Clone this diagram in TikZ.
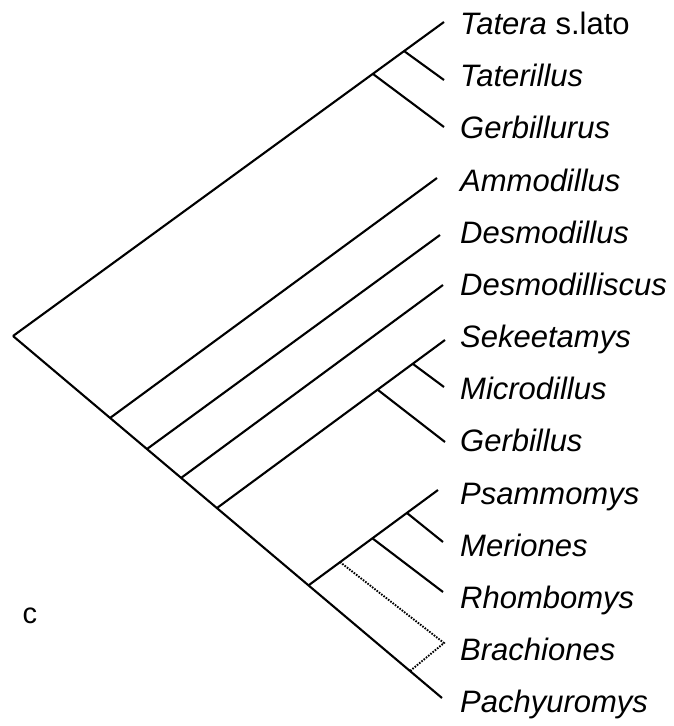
\documentclass[tikz,border=0pt]{standalone}
\usepackage{fontspec}
\setmainfont{Liberation Sans}

\begin{document}
\begin{tikzpicture}[x=1pt,y=-1pt,
  taxon/.style={anchor=base west, inner sep=0pt, font=\fontsize{31}{37}\selectfont\itshape},
  uncertain/.style={line width=1.9pt, dash pattern=on 1.6pt off 1.3pt}]
\useasboundingbox (0,0) rectangle (674,726);
% root and main stem
\coordinate (root) at (13,336);
\coordinate (m1) at (110,418);
\coordinate (m2) at (147,449);
\coordinate (m3) at (181,478);
\coordinate (m4) at (217,508);
\coordinate (m5) at (309,585);
\coordinate (d1) at (410,671);
% inner nodes of the clades
\coordinate (u1) at (373,74);
\coordinate (u2) at (404,51);
\coordinate (s1) at (378,390);
\coordinate (s2) at (413,364);
\coordinate (p0) at (340,562);
\coordinate (p1) at (372,538);
\coordinate (p2) at (407,513);
% tips
\coordinate (tat) at (444,22);
\coordinate (tli) at (444,80);
\coordinate (gbu) at (444,127);
\coordinate (amm) at (437,178);
\coordinate (dsm) at (440,235);
\coordinate (dsc) at (443,285);
\coordinate (sek) at (445,340);
\coordinate (mic) at (444,387);
\coordinate (gbi) at (445,442);
\coordinate (psa) at (438,490);
\coordinate (mer) at (443,542);
\coordinate (rho) at (443,592);
\coordinate (bra) at (444,643);
\coordinate (pac) at (442,698);
\begin{scope}[line width=2.1pt]
% draws edges
\draw (root) to (tat);
\draw (u2) to (tli);
\draw (u1) to (gbu);
\draw (root) to (pac);
\draw (m1) to (amm);
\draw (m2) to (dsm);
\draw (m3) to (dsc);
\draw (m4) to (sek);
\draw (s2) to (mic);
\draw (s1) to (gbi);
\draw (m5) to (psa);
\draw (p2) to (mer);
\draw (p1) to (rho);
\end{scope}
% draws uncertain position
\draw[uncertain] (p0) to (bra) to (d1);
% labels tips
\node[taxon] (ltat) at (460,34) {Tatera \upshape s.lato};
\node[taxon] (ltli) at (460,86) {Taterillus};
\node[taxon] (lgbu) at (460,138) {Gerbillurus};
\node[taxon] (lamm) at (460,191) {Ammodillus};
\node[taxon] (ldsm) at (460,243) {Desmodillus};
\node[taxon] (ldsc) at (460,295) {Desmodilliscus};
\node[taxon] (lsek) at (460,347) {Sekeetamys};
\node[taxon] (lmic) at (460,399) {Microdillus};
\node[taxon] (lgbi) at (460,451) {Gerbillus};
\node[taxon] (lpsa) at (460,504) {Psammomys};
\node[taxon] (lmer) at (460,556) {Meriones};
\node[taxon] (lrho) at (460,608) {Rhombomys};
\node[taxon] (lbra) at (460,660) {Brachiones};
\node[taxon] (lpac) at (460,712) {Pachyuromys};
\node[inner sep=0pt, font=\fontsize{29}{35}\selectfont] (panel) at (30,616) {c};
\end{tikzpicture}
\end{document}
